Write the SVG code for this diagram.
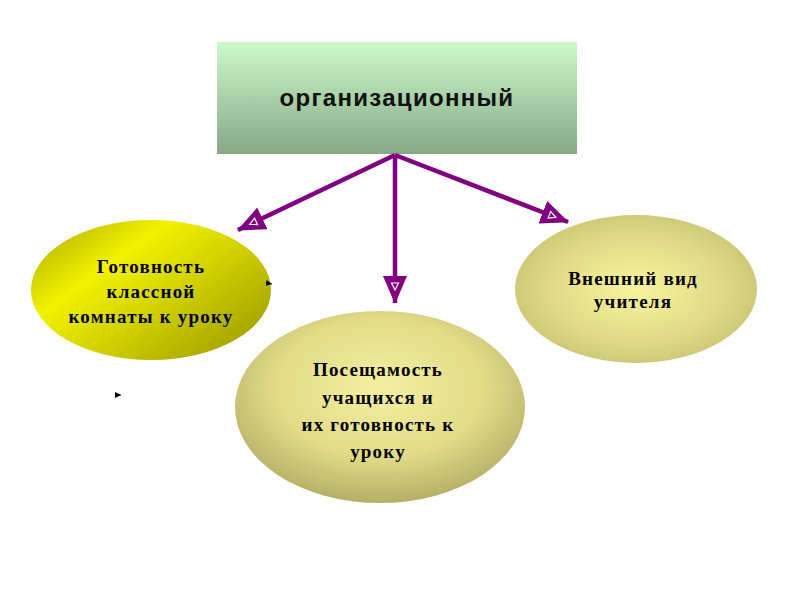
<svg xmlns="http://www.w3.org/2000/svg" width="800" height="600" viewBox="0 0 800 600">
<defs>
<linearGradient id="gTop" x1="0" y1="0" x2="0" y2="1">
<stop offset="0" stop-color="#ccfacc"/>
<stop offset="1" stop-color="#86a886"/>
</linearGradient>
<linearGradient id="gLeft" x1="0" y1="0.1" x2="1" y2="0.9">
<stop offset="0" stop-color="#b0b000"/>
<stop offset="0.3" stop-color="#f2f200"/>
<stop offset="0.55" stop-color="#d4d400"/>
<stop offset="1" stop-color="#9a9a00"/>
</linearGradient>
<radialGradient id="gBot" cx="0.5" cy="0.4" r="0.6">
<stop offset="0" stop-color="#f4f0a0"/>
<stop offset="0.6" stop-color="#e2dc88"/>
<stop offset="1" stop-color="#b4b066"/>
</radialGradient>
<radialGradient id="gRight" cx="0.5" cy="0.5" r="0.6">
<stop offset="0" stop-color="#f8f49c"/>
<stop offset="0.6" stop-color="#e0da88"/>
<stop offset="1" stop-color="#c2be6c"/>
</radialGradient>
<marker id="arr" viewBox="0 0 28 24" refX="27" refY="12" markerWidth="28" markerHeight="24" markerUnits="userSpaceOnUse" orient="auto">
<path d="M0,0 L28,12 L0,24 Z" fill="#800080"/>
<path d="M7,8.5 L14,12 L7,15.5 Z" fill="none" stroke="#ffffff" stroke-width="1.2"/>
</marker>
<marker id="small" viewBox="0 0 6 6" refX="6" refY="3" markerWidth="6" markerHeight="6" markerUnits="userSpaceOnUse" orient="auto">
<path d="M0,0 L6,3 L0,6 Z" fill="#000"/>
</marker>
<style>
.conn{stroke:#800080;stroke-width:4.5;fill:none;marker-end:url(#arr)}
.lbl{font-family:"Liberation Serif","Times New Roman",serif;font-weight:bold;font-size:19px;fill:#000;text-anchor:middle;letter-spacing:1.2px}
.top{font-family:"Liberation Sans",Arial,sans-serif;font-weight:bold;font-size:24px;fill:#111;text-anchor:middle;letter-spacing:1.3px}
</style>
</defs>
<rect width="800" height="600" fill="#ffffff"/>
<g id="node-org">
<rect x="217" y="42" width="360" height="112" fill="url(#gTop)"/>
<text class="top" x="397" y="106">организационный</text>
</g>
<g id="node-left">
<ellipse cx="151" cy="290" rx="120" ry="70" fill="url(#gLeft)"/>
<text class="lbl" x="151" y="273">Готовность</text>
<text class="lbl" x="151" y="298">классной</text>
<text class="lbl" x="151" y="323">комнаты к уроку</text>
</g>
<g id="node-bottom">
<ellipse cx="380" cy="407" rx="145" ry="96" fill="url(#gBot)"/>
<text class="lbl" x="378" y="376">Посещамость</text>
<text class="lbl" x="378" y="404">учащихся и</text>
<text class="lbl" x="378" y="431">их готовность к</text>
<text class="lbl" x="378" y="458">уроку</text>
</g>
<g id="node-right">
<ellipse cx="636" cy="289" rx="121" ry="74" fill="url(#gRight)"/>
<text class="lbl" x="633" y="285">Внешний вид</text>
<text class="lbl" x="633" y="308">учителя</text>
</g>
<g id="connectors">
<path class="conn" d="M395,155 L238,230"/>
<path class="conn" d="M395,155 L395,303"/>
<path class="conn" d="M395,155 L568,222"/>
<path d="M266,283 L272,284" stroke="#000" stroke-width="0.8" marker-end="url(#small)"/>
<path d="M115,395 L121,395" stroke="#000" stroke-width="0.8" marker-end="url(#small)"/>
</g>
</svg>
